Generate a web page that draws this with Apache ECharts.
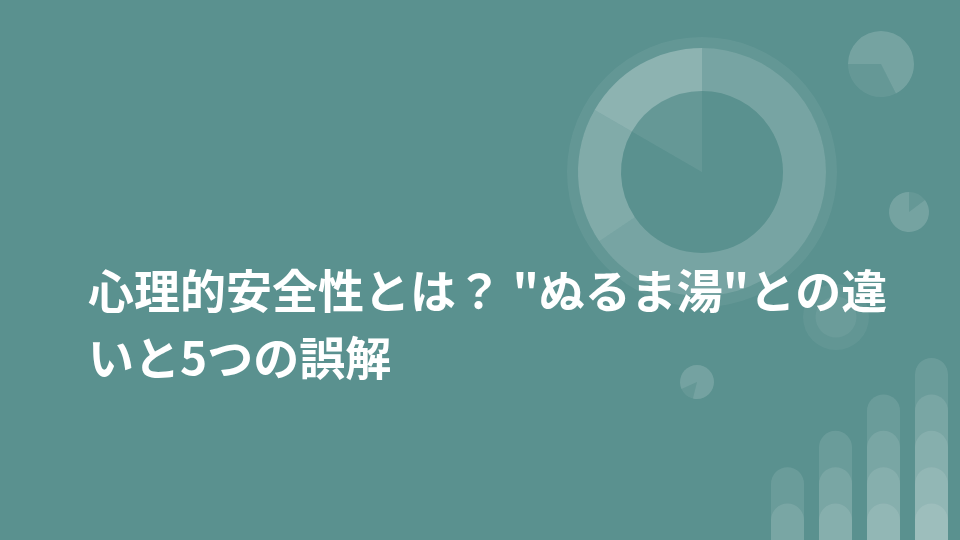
<!DOCTYPE html>
<html>
<head>
<meta charset="utf-8">
<script src="https://cdn.jsdelivr.net/npm/echarts@6/dist/echarts.min.js"></script>
<style>
  html, body { margin: 0; padding: 0; background: #5a918f; }
  #chart { width: 960px; height: 540px; }
</style>
</head>
<body>
<div id="chart"></div>
<script>
// title lines
const titleLines = ['心理的安全性とは？ "ぬるま湯"との違', 'いと5つの誤解'];

// big donut: slice angles (deg, clockwise from 12 o'clock)
const donutSlices = [236, 64, 60];
const donutAlpha = [0.18, 0.24, 0.31];
// inner wedge under the donut
const wedgeSlices = [300, 60];

// small pies
const pieA = [243, 117];   // from 9 o'clock
const pieB = [53, 307];    // from 12 o'clock
const pieC = [194, 52, 114];

// stacked rounded bars: layers per column
const barCategories = ['a', 'b', 'c', 'd'];
const barLevels = [2, 3, 4, 5];

const white = a => `rgba(255,255,255,${a})`;

function pie(center, radius, values, colors, startAngle) {
    return {
        type: 'pie',
        center: center,
        radius: radius,
        startAngle: startAngle === undefined ? 90 : startAngle,
        clockwise: true,
        silent: true,
        label: { show: false },
        labelLine: { show: false },
        emphasis: { disabled: true },
        itemStyle: { borderWidth: 0 },
        data: values.map((v, i) => ({ value: v, itemStyle: { color: colors[i] } }))
    };
}

let series = [
    pie([702, 172], [124, 135], [1], [white(0.06)]),
    pie([702, 172], [0, 81], wedgeSlices, ['transparent', white(0.07)]),
    pie([702, 172], [81, 124], donutSlices, donutAlpha.map(white)),
    pie([881, 64], [0, 33], pieA, [white(0.17), white(0.07)], 180),
    pie([909, 212], [0, 20], pieB, [white(0.07), white(0.17)]),
    pie([697, 382], [0, 17], pieC, [white(0.16), white(0.07), white(0.16)]),
    pie([836, 317], [0, 33], [1], [white(0.05)]),
    pie([836, 317], [0, 20.5], [1], [white(0.06)])
];

for (let k = 1; k <= 5; k++) {
    series.push({
        type: 'bar',
        silent: true,
        barWidth: 33,
        barGap: '-100%',
        itemStyle: { color: white(0.1), borderRadius: [16.5, 16.5, 0, 0] },
        data: barLevels.map(l => l >= k ? k : '-')
    });
}

let chart = echarts.init(document.getElementById('chart'));
chart.setOption({
    backgroundColor: '#5a918f',
    animation: false,
    grid: { left: 763.5, width: 192, top: 358, bottom: 0 },
    xAxis: { type: 'category', data: barCategories, show: false },
    yAxis: { type: 'value', min: 0, max: 5, show: false },
    series: series,
    graphic: titleLines.map((t, i) => ({
        type: 'text',
        x: 88,
        y: 291 + i * 67,
        z: 100,
        style: {
            text: t,
            fill: '#ffffff',
            font: 'bold 46px "Noto Sans CJK JP", "Noto Sans", sans-serif',
            align: 'left',
            verticalAlign: 'middle',
            textAlign: 'left',
            textVerticalAlign: 'middle'
        }
    }))
});
</script>
</body>
</html>
